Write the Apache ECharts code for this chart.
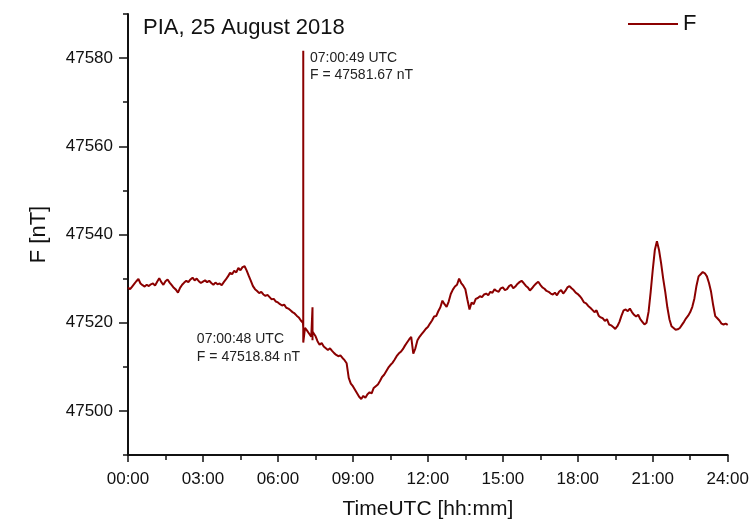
<!DOCTYPE html>
<html>
<head>
<meta charset="utf-8">
<script src="https://cdn.jsdelivr.net/npm/echarts@6/dist/echarts.min.js"></script>
<style>
html,body{margin:0;padding:0;background:#fff}
#chart{width:752px;height:525px}
</style>
</head>
<body>
<div id="chart"></div>
<script>
// total field F, one reading every 5 minutes from 00:00 to 24:00 (one row per hour)
var stepMinutes = 5;
var fValues = [
    47528, 47527.6, 47528.2, 47528.8, 47529.4, 47529.9, 47528.9, 47528.5, 47528.2, 47528.6, 47528.3, 47528.7,
    47528.9, 47528.4, 47529.3, 47530.1, 47529.2, 47528.6, 47529.4, 47529.8, 47529.1, 47528.5, 47527.9, 47527.5,
    47526.8, 47527.9, 47528.6, 47529.1, 47529.5, 47529.2, 47529.8, 47530.2, 47529.6, 47530, 47529.4, 47529,
    47529.3, 47529.6, 47529.2, 47529.5, 47529, 47528.6, 47529.1, 47528.7, 47528.9, 47528.5, 47529.2, 47529.8,
    47530.5, 47531.3, 47531, 47531.8, 47531.4, 47532.4, 47531.9, 47532.6, 47532.8, 47531.8, 47530.6, 47529.5,
    47528.3, 47527.6, 47527.2, 47526.7, 47527, 47526.4, 47526.1, 47526.3, 47525.8, 47525.3, 47525.4, 47524.8,
    47524.6, 47524.2, 47523.9, 47524.1, 47523.4, 47523.2, 47522.8, 47522.4, 47522.1, 47521.6, 47521.2, 47520.5,
    47520, 47518.8, 47518.2, 47517.5, 47516.8, 47517.8, 47517, 47515.8, 47515, 47515.4, 47514.6, 47514.2,
    47513.8, 47514.2, 47513.6, 47513.1, 47512.7, 47512.4, 47512.6, 47512, 47511.5, 47510.8, 47507.5, 47506.2,
    47505.6, 47504.8, 47504, 47503.2, 47502.7, 47503.4, 47503, 47503.8, 47504.2, 47504, 47505.2, 47505.6,
    47506, 47506.8, 47507.7, 47508.2, 47509, 47509.8, 47510.4, 47510.9, 47511.6, 47512.4, 47513, 47513.4,
    47514, 47514.8, 47515.5, 47516.2, 47516.8, 47513, 47514.2, 47516, 47516.8, 47517.4, 47518, 47518.6,
    47519, 47519.8, 47520.5, 47521.4, 47521.5, 47522.6, 47523.5, 47525, 47524.2, 47523.6, 47524.8, 47526.5,
    47527.5, 47528.2, 47528.6, 47530, 47529, 47528.4, 47527.6, 47525.2, 47523, 47524.6, 47524.2, 47525.4,
    47525.6, 47526, 47525.8, 47526.4, 47526.6, 47526.2, 47527, 47526.8, 47527.6, 47527.2, 47527, 47527.8,
    47528, 47527.4, 47527.6, 47528.3, 47528.6, 47527.8, 47528.2, 47528.8, 47529.2, 47529.5, 47529, 47528.4,
    47528, 47527.3, 47527.8, 47528.4, 47528.9, 47529.3, 47528.6, 47528, 47527.7, 47527.2, 47527, 47526.6,
    47526.4, 47526.8, 47526.2, 47527, 47527.4, 47526.6, 47527.2, 47528, 47528.3, 47527.8, 47527.4, 47526.8,
    47526.5, 47526, 47525.4, 47524.6, 47524.4, 47523.8, 47523.4, 47522.9, 47522.4, 47522.8, 47521.6, 47521.2,
    47521, 47520.4, 47520.8, 47519.6, 47519.4, 47519, 47518.6, 47519.2, 47520.2, 47521.6, 47522.8, 47523,
    47522.6, 47523.2, 47522.4, 47521.8, 47521.4, 47521.8, 47520.8, 47520.2, 47519.6, 47520, 47522.5, 47527,
    47532, 47536.5, 47538.5, 47536.5, 47533.5, 47530, 47527, 47523.5, 47520.8, 47519.2, 47518.8, 47518.4,
    47518.5, 47518.8, 47519.5, 47520.2, 47521, 47521.6, 47522.4, 47523.6, 47525.5, 47528.4, 47530.5, 47531,
    47531.5, 47531.2, 47530.5, 47529, 47527, 47524, 47521.5, 47521, 47520.5, 47519.8, 47519.6, 47519.8,
    47519.5
];
// short spikes around 07:00
var spikeTimes = ['07:00:48', '07:00:49', '07:00:50', '07:23:00', '07:23:01', '07:23:02'];
var spikeValues = [47518.84, 47581.67, 47515.5, 47523.5, 47516, 47518];

var yLabelValues = [47500, 47520, 47540, 47560, 47580];
var annoTop = ['07:00:49 UTC', 'F = 47581.67 nT'];
var annoLow = ['07:00:48 UTC', 'F = 47518.84 nT'];

function toHours(s){
    var p = s.split(':');
    return (+p[0]) + (+p[1]) / 60 + (+p[2]) / 3600;
}

var points = [];
for (var i = 0; i < fValues.length; i++) {
    points.push([i * stepMinutes / 60, fValues[i]]);
}
for (var j = 0; j < spikeTimes.length; j++) {
    points.push([toHours(spikeTimes[j]), spikeValues[j]]);
}
points.sort(function(a, b){ return a[0] - b[0]; });

var font = '"Liberation Sans", Arial, sans-serif';
var ink = '#111';
var chart = echarts.init(document.getElementById('chart'));
var option = {
    animation: false,
    textStyle: {fontFamily: font},
    grid: {left: 128, right: 23, top: 14, bottom: 69},
    title: {
        text: 'PIA, 25 August 2018',
        left: 138, top: 12,
        textStyle: {fontFamily: font, fontSize: 22, fontWeight: 'normal', color: ink}
    },
    legend: {
        left: 622, top: 8,
        itemWidth: 50, itemHeight: 2, itemGap: 6,
        textStyle: {fontFamily: font, fontSize: 22, color: ink},
        data: ['F']
    },
    xAxis: {
        type: 'value',
        min: 0, max: 24, interval: 3,
        name: 'TimeUTC [hh:mm]',
        nameLocation: 'middle', nameGap: 44, nameMoveOverlap: false,
        nameTextStyle: {fontFamily: font, fontSize: 21, color: ink},
        axisLine: {lineStyle: {color: ink, width: 2}},
        axisTick: {length: 7, lineStyle: {color: ink, width: 1.5}},
        minorTick: {show: true, splitNumber: 2, length: 5, lineStyle: {color: ink, width: 1.5}},
        splitLine: {show: false},
        axisLabel: {
            fontFamily: font, fontSize: 17, color: ink, margin: 16,
            formatter: function(v){ return (v < 10 ? '0' : '') + v + ':00'; }
        }
    },
    yAxis: [{
        type: 'value',
        min: 47490, max: 47590, interval: 10,
        name: 'F [nT]',
        nameLocation: 'middle', nameGap: 78, nameRotate: 90,
        nameTextStyle: {fontFamily: font, fontSize: 22, color: ink},
        axisLine: {show: true, lineStyle: {color: ink, width: 2}},
        axisTick: {length: 9, customValues: yLabelValues, lineStyle: {color: ink, width: 1.5}},
        splitLine: {show: false},
        axisLabel: {
            fontFamily: font, fontSize: 17, color: ink, margin: 15,
            customValues: yLabelValues,
            formatter: function(v){ return String(v); }
        }
    }, {
        type: 'value',
        min: 47490, max: 47590, interval: 10,
        position: 'left',
        axisLine: {show: false},
        axisTick: {show: true, length: 5, lineStyle: {color: ink, width: 1.5}},
        axisLabel: {show: false},
        splitLine: {show: false}
    }],
    series: [{
        name: 'F',
        type: 'line',
        symbol: 'none',
        data: points,
        lineStyle: {color: '#8b0000', width: 2},
        itemStyle: {color: '#8b0000'}
    }],
    graphic: [
        {type: 'text', left: 310, top: 50,
         style: {text: annoTop.join('\n'), font: '14px ' + font, fill: '#222', lineHeight: 17}},
        {type: 'text', right: 452, top: 330,
         style: {text: annoLow.join('\n'), font: '14px ' + font, fill: '#222', lineHeight: 18, align: 'right'}}
    ]
};
chart.setOption(option);
</script>
</body>
</html>
